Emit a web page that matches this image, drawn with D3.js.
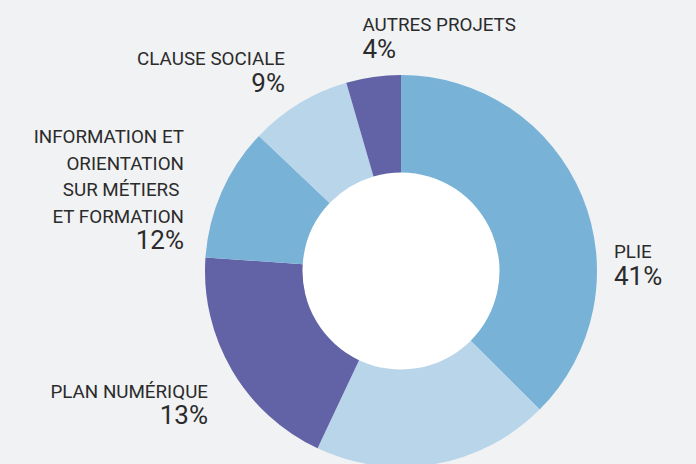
<!DOCTYPE html>
<html>
<head>
<meta charset="utf-8">
<script src="https://cdn.jsdelivr.net/npm/d3@7"></script>
<style>
  html, body { margin: 0; padding: 0; background: #f1f2f4; }
  svg { display: block; }
</style>
</head>
<body>
<div id="chart"></div>
<script>
// ---- data ----
const categories = ["PLIE", "AUTRE (hors cadre)", "PLAN NUMÉRIQUE", "INFORMATION ET ORIENTATION SUR MÉTIERS ET FORMATION", "CLAUSE SOCIALE", "AUTRES PROJETS"];
const sliceValues = [37.5, 19.5, 19.1, 11.0, 8.4, 4.5];   // angular share as drawn
const percentLabels = ["41%", "", "13%", "12%", "9%", "4%"];
const labelLines = [
  ["PLIE"],
  [],
  ["PLAN NUMÉRIQUE"],
  ["INFORMATION ET", "ORIENTATION", "SUR MÉTIERS\u00a0", "ET FORMATION"],
  ["CLAUSE SOCIALE"],
  ["AUTRES PROJETS"]
];
const sliceColors = ["#78b3d7", "#b9d5ea", "#6262a6", "#78b3d7", "#b9d5ea", "#6262a6"];

// ---- layout ----
const W = 696, H = 464;
const cx = 401, cy = 271, R = 196, r = 98.5;
// label anchors: [x, first-line baseline, text-anchor]
const labelPos = [
  [614, 258, "start"],
  null,
  [208, 397.5, "end"],
  [184, 143, "end"],
  [285, 65, "end"],
  [362.5, 31, "start"]
];
const lineGap = 26.5;

const svg = d3.select("#chart").append("svg")
  .attr("width", W).attr("height", H);

svg.append("rect").attr("width", W).attr("height", H).attr("fill", "#f1f2f4");

const g = svg.append("g").attr("transform", `translate(${cx},${cy})`);

g.append("circle").attr("r", r + 1).attr("fill", "#ffffff");

const pie = d3.pie().sort(null).value(d => d);
const arc = d3.arc().innerRadius(r).outerRadius(R);
const arcs = pie(sliceValues);

g.selectAll("path.slice")
  .data(arcs)
  .join("path")
  .attr("class", "slice")
  .attr("d", arc)
  .attr("fill", (d, i) => sliceColors[i]);

// labels
const labels = svg.append("g")
  .attr("font-family", "Roboto, 'Noto Sans', sans-serif")
  .attr("fill", "#2b2b2b");

labelLines.forEach((lines, i) => {
  const p = labelPos[i];
  if (!p || lines.length === 0) return;
  const [x, y0, anchor] = p;
  lines.forEach((t, k) => {
    labels.append("text")
      .attr("x", x)
      .attr("y", y0 + k * lineGap)
      .attr("text-anchor", anchor)
      .attr("font-size", 18.8)
      .attr("xml:space", "preserve")
      .text(t);
  });
  labels.append("text")
    .attr("x", x)
    .attr("y", y0 + lines.length * lineGap)
    .attr("text-anchor", anchor)
    .attr("font-size", 26)
    .attr("font-weight", 400)
    .text(percentLabels[i]);
});
</script>
</body>
</html>
